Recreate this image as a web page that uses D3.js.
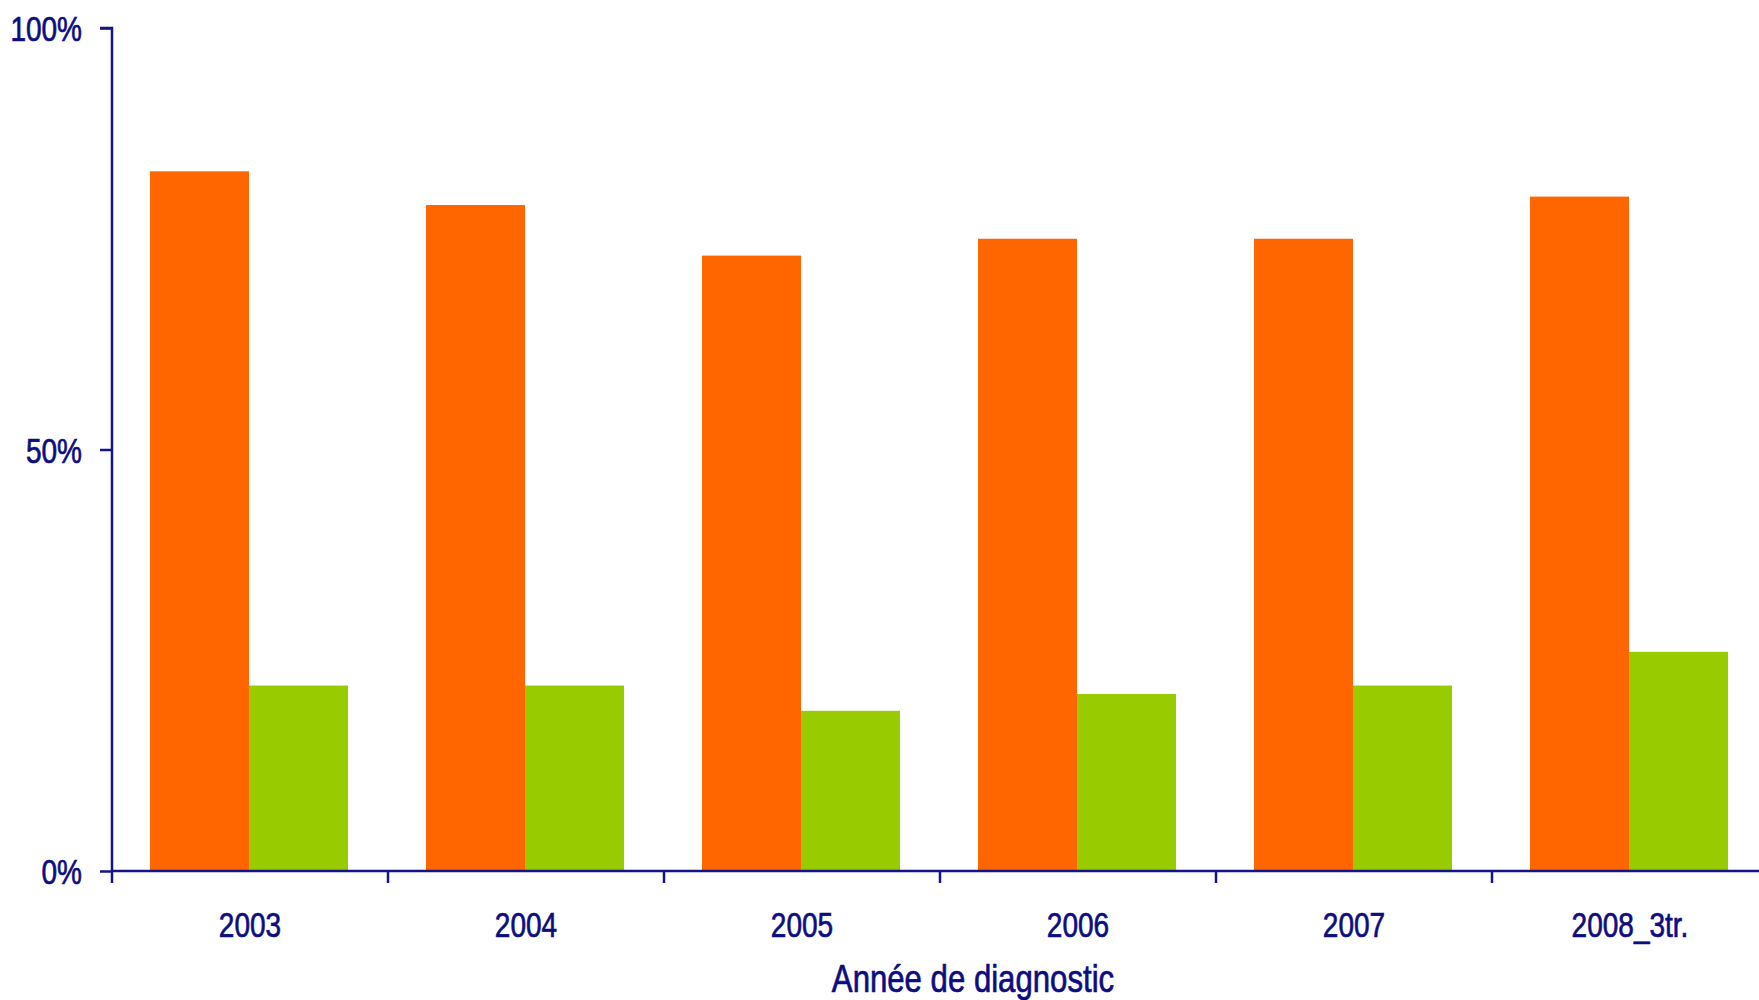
<!DOCTYPE html>
<html>
<head>
<meta charset="utf-8">
<script src="https://cdn.jsdelivr.net/npm/d3@7"></script>
<style>
  html, body { margin: 0; padding: 0; background: #ffffff; }
  svg text { font-family: "Liberation Sans", Arial, sans-serif; fill: #0d0d80; stroke: #0d0d80; stroke-width: 0.7px; }
</style>
</head>
<body>
<svg id="chart" width="1759" height="1000"></svg>
<script>
// Years of diagnosis
const categories = ["2003", "2004", "2005", "2006", "2007", "2008_3tr."];
// Percentages for the two series (orange, green)
const orangeValues = [83, 79, 73, 75, 75, 80];
const greenValues = [22, 22, 19, 21, 22, 26];
const yTicks = [0, 50, 100];
const seriesColors = ["#ff6600", "#99cc00"];
const axisTitle = "Année de diagnostic";

const svg = d3.select("#chart");
const width = 1759, height = 1000;
const margin = { left: 112, top: 28, bottom: 129 };
const plotBottom = height - margin.bottom; // 871
const axisColor = "#14148a";

// Compress text horizontally around its own anchor point
function narrow(sel, s) {
  sel.each(function () {
    const t = d3.select(this);
    const x0 = +t.attr("x") || 0;
    t.attr("x", x0 / s).attr("transform", `scale(${s},1)`);
  });
}

const x = d3.scaleBand()
  .domain(categories)
  .range([margin.left, margin.left + 276 * categories.length])
  .paddingInner(0)
  .paddingOuter(0);

const y = d3.scaleLinear().domain([0, 100]).range([plotBottom, margin.top]);

const series = d3.scaleBand()
  .domain([0, 1])
  .range([38, x.bandwidth() - 40]);

const rows = categories.map((c, i) => ({ cat: c, vals: [orangeValues[i], greenValues[i]] }));

// Bars
const groups = svg.append("g").selectAll("g").data(rows).join("g")
  .attr("transform", d => `translate(${x(d.cat)},0)`);

groups.selectAll("rect").data(d => d.vals.map((v, k) => ({ v, k }))).join("rect")
  .attr("x", d => series(d.k))
  .attr("width", series.bandwidth())
  .attr("y", d => y(d.v))
  .attr("height", d => plotBottom - y(d.v))
  .attr("fill", d => seriesColors[d.k]);

// Y axis
const yAxis = svg.append("g").attr("transform", `translate(${margin.left},0)`)
  .call(d3.axisLeft(y).tickValues(yTicks).tickFormat(d => d + "%").tickSize(12).tickPadding(18));
yAxis.select(".domain").attr("stroke", axisColor).attr("stroke-width", 2.5)
  .attr("d", `M-12,${margin.top}H0V${plotBottom}`);
yAxis.selectAll(".tick line").attr("stroke", axisColor).attr("stroke-width", 2.5);
yAxis.selectAll(".tick text").style("font-size", "35px").attr("dy", "0.36em").call(narrow, 0.8);

// X axis
const xAxis = svg.append("g").attr("transform", `translate(0,${plotBottom})`)
  .call(d3.axisBottom(x).tickSize(0).tickPadding(41));
xAxis.select(".domain").attr("stroke", axisColor).attr("stroke-width", 2.5)
  .attr("d", `M${margin.left},0H${width}`);
xAxis.selectAll(".tick text").style("font-size", "35px").call(narrow, 0.8);

// Category separator ticks at the band edges
svg.append("g").selectAll("line").data(categories).join("line")
  .attr("x1", d => x(d)).attr("x2", d => x(d))
  .attr("y1", plotBottom).attr("y2", plotBottom + 12)
  .attr("stroke", axisColor).attr("stroke-width", 2.5);

// Axis title
svg.append("g").attr("transform", "translate(973,992)")
  .append("text")
  .attr("text-anchor", "middle")
  .style("font-size", "38px")
  .text(axisTitle)
  .call(narrow, 0.82);
</script>
</body>
</html>
